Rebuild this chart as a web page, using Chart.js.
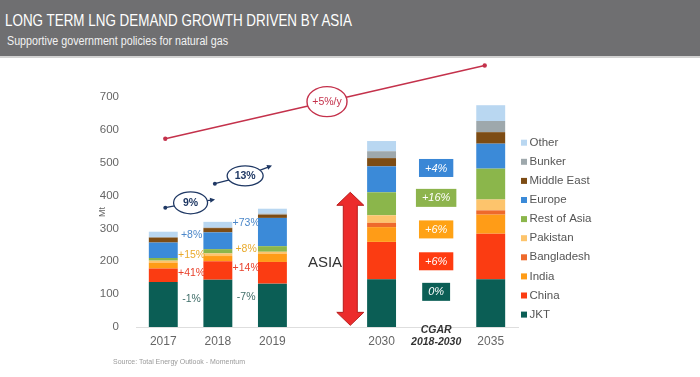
<!DOCTYPE html>
<html>
<head>
<meta charset="utf-8">
<script src="https://cdn.jsdelivr.net/npm/chart.js@4.4.0/dist/chart.umd.min.js"></script>
<style>
  html, body { margin: 0; padding: 0; background: #fff; }
  #wrap { position: relative; width: 700px; height: 377px; overflow: hidden; font-family: "Liberation Sans", Arial, sans-serif; }
  #header { position: absolute; left: 0; top: 0; width: 700px; height: 56px; background: #6f6f71; border-bottom: 2px solid #d2d2d2; z-index: 2; }
  .fit { position: absolute; white-space: nowrap; transform-origin: 0 0; display: inline-block; }
  #title { left: 5px; top: 11px; color: #fff; font-size: 17px; line-height: 19px; }
  #subtitle { left: 7px; top: 34px; color: #f2f2f2; font-size: 12.5px; line-height: 15px; }
  #source { left: 113px; top: 357px; color: #9a9a9a; font-size: 7px; line-height: 9px; z-index: 2; }
  canvas { position: absolute; left: 0; top: 0; }
</style>
</head>
<body>
<div id="wrap">
  <div id="header">
    <span id="title" class="fit" data-w="347">LONG TERM LNG DEMAND GROWTH DRIVEN BY ASIA</span>
    <span id="subtitle" class="fit" data-w="221">Supportive government policies for natural gas</span>
  </div>
  <canvas id="lngChart" width="700" height="377"></canvas>
  <span id="source" class="fit" data-w="132">Source: Total Energy Outlook - Momentum</span>
</div>
<script>
// categories (index 3 is the gap, index 5 holds the CGAR boxes)
const categories = ['2017', '2018', '2019', '', '2030', 'CGAR', '2035'];

// Mt per region, bottom to top of the stack
const jkt        = [137, 144, 132, null, 145, null, 145];
const china      = [41, 56, 66, null, 114, null, 139];
const india      = [18, 16, 25, null, 45, null, 58];
const bangladesh = [0, 0, 0, null, 13, null, 13];
const pakistan   = [6, 8, 6, null, 23, null, 33];
const restOfAsia = [8, 13, 17, null, 70, null, 94];
const europe     = [47, 51, 86, null, 79, null, 76];
const middleEast = [15, 13, 10, null, 25, null, 35];
const bunker     = [2, 2, 3, null, 21, null, 34];
const other      = [16, 17, 15, null, 31, null, 48];

const seriesNames = ['JKT', 'China', 'India', 'Bangladesh', 'Pakistan', 'Rest of Asia', 'Europe', 'Middle East', 'Bunker', 'Other'];
const seriesColors = ['#0b5e55', '#fb3c12', '#ff9c17', '#ee6a2c', '#fdc46c', '#8bb64b', '#3b8ad8', '#7d4c14', '#9ea8ac', '#b9d7f1'];

const yTicks = [0, 100, 200, 300, 400, 500, 600, 700];

// growth labels between the historic bars (top to bottom)
const growth2018 = ['+8%', '+15%', '+41%', '-1%'];
const growth2019 = ['+73%', '+8%', '+14%', '-7%'];
const growthColors = ['#4b87c9', '#e9aa2c', '#e8412b', '#3f6d68'];

// CGAR 2018-2030 boxes (top to bottom)
const cagrLabels = ['+4%', '+16%', '+6%', '+6%', '0%'];
const cagrColors = ['#3a87d6', '#8db44d', '#ffa215', '#ff3b10', '#0b5e55'];

const yoyLabels = ['9%', '13%'];
const trendLabel = '+5%/y';

const seriesData = [jkt, china, india, bangladesh, pakistan, restOfAsia, europe, middleEast, bunker, other];

// squeeze the html texts to the measured widths
document.querySelectorAll('.fit').forEach(el => {
    const w = el.getBoundingClientRect().width;
    el.style.transform = `scaleX(${el.dataset.w / w})`;
});

Chart.defaults.font.family = '"Liberation Sans", Arial, sans-serif';

function ellipseBadge(ctx, cx, cy, rx, ry, color, text, font) {
    ctx.beginPath();
    ctx.ellipse(cx, cy, rx, ry, 0, 0, Math.PI * 2);
    ctx.fillStyle = '#fff';
    ctx.fill();
    ctx.strokeStyle = color;
    ctx.stroke();
    ctx.fillStyle = color;
    ctx.font = font;
    ctx.textAlign = 'center';
    ctx.textBaseline = 'middle';
    ctx.fillText(text, cx, cy + 0.5);
}

const annotate = {
    id: 'annotate',
    afterDraw(chart) {
        const { ctx } = chart;
        const x = chart.scales.x;
        const y = chart.scales.y;
        ctx.save();

        // y axis title
        ctx.save();
        ctx.translate(103, 212);
        ctx.rotate(-Math.PI / 2);
        ctx.fillStyle = '#666';
        ctx.font = '9px "Liberation Sans", Arial';
        ctx.textAlign = 'center';
        ctx.textBaseline = 'middle';
        ctx.fillText('Mt', 0, 0);
        ctx.restore();

        // growth labels between historic bars
        const gY1 = [279, 220, 164, 86];
        const gY2 = [315, 236, 178, 91];
        const m01 = (x.getPixelForValue(0) + x.getPixelForValue(1)) / 2;
        const m12 = (x.getPixelForValue(1) + x.getPixelForValue(2)) / 2;
        ctx.font = '10.5px "Liberation Sans", Arial';
        ctx.textAlign = 'center';
        ctx.textBaseline = 'middle';
        growth2018.forEach((t, i) => {
            ctx.fillStyle = growthColors[i];
            ctx.fillText(t, m01 + 1, y.getPixelForValue(gY1[i]));
        });
        growth2019.forEach((t, i) => {
            ctx.fillStyle = growthColors[i];
            ctx.fillText(t, m12 + 1, y.getPixelForValue(gY2[i]));
        });

        // yearly growth circles
        const navy = '#1f3864';
        ctx.lineWidth = 1.3;
        const badges = [
            { cx: m01, cy: 378, rx: 17, ry: 11, from: [x.getPixelForValue(0) + 2, 363], to: [m01 + 22.5, 387] },
            { cx: m12, cy: 460, rx: 18, ry: 10, from: [x.getPixelForValue(1) - 3, 436], to: [m12 + 25, 489] }
        ];
        badges.forEach((b, i) => {
            const cy = y.getPixelForValue(b.cy);
            const fy = y.getPixelForValue(b.from[1]);
            const ty = y.getPixelForValue(b.to[1]);
            ctx.strokeStyle = navy;
            ctx.fillStyle = navy;
            ctx.beginPath();
            ctx.moveTo(b.from[0], fy);
            ctx.lineTo(b.cx, cy);
            ctx.lineTo(b.to[0], ty);
            ctx.stroke();
            ctx.beginPath();
            ctx.arc(b.from[0], fy, 2, 0, Math.PI * 2);
            ctx.fill();
            const ang = Math.atan2(ty - cy, b.to[0] - b.cx);
            ctx.beginPath();
            ctx.moveTo(b.to[0] + 2 * Math.cos(ang), ty + 2 * Math.sin(ang));
            ctx.lineTo(b.to[0] - 3 * Math.cos(ang) - 2.5 * Math.sin(ang), ty - 3 * Math.sin(ang) + 2.5 * Math.cos(ang));
            ctx.lineTo(b.to[0] - 3 * Math.cos(ang) + 2.5 * Math.sin(ang), ty - 3 * Math.sin(ang) - 2.5 * Math.cos(ang));
            ctx.closePath();
            ctx.fill();
            ellipseBadge(ctx, b.cx, cy, b.rx, b.ry, navy, yoyLabels[i], 'bold 10.5px "Liberation Sans", Arial');
        });

        // long term trend line
        const crimson = '#c4314b';
        const sx = x.getPixelForValue(0) + 2, sy = y.getPixelForValue(573);
        const ex = x.getPixelForValue(6) - 6, ey = y.getPixelForValue(796);
        ctx.strokeStyle = crimson;
        ctx.fillStyle = crimson;
        ctx.lineWidth = 1.4;
        ctx.beginPath();
        ctx.moveTo(sx, sy);
        ctx.lineTo(ex, ey);
        ctx.stroke();
        [[sx, sy], [ex, ey]].forEach(p => {
            ctx.beginPath();
            ctx.arc(p[0], p[1], 2.2, 0, Math.PI * 2);
            ctx.fill();
        });
        const tcx = x.getPixelForValue(3);
        const tcy = sy + (ey - sy) * (tcx - sx) / (ex - sx);
        ellipseBadge(ctx, tcx, tcy, 20, 15, crimson, trendLabel, '10.5px "Liberation Sans", Arial');

        // ASIA double arrow
        const ax = (x.getPixelForValue(3) + x.getPixelForValue(4)) / 2 - 4;
        const at = y.getPixelForValue(410), ab = y.getPixelForValue(5);
        const hw = 13.5, hh = 13, sw = 7;
        ctx.beginPath();
        ctx.moveTo(ax, at);
        ctx.lineTo(ax + hw, at + hh);
        ctx.lineTo(ax + sw, at + hh);
        ctx.lineTo(ax + sw, ab - hh);
        ctx.lineTo(ax + hw, ab - hh);
        ctx.lineTo(ax, ab);
        ctx.lineTo(ax - hw, ab - hh);
        ctx.lineTo(ax - sw, ab - hh);
        ctx.lineTo(ax - sw, at + hh);
        ctx.lineTo(ax - hw, at + hh);
        ctx.closePath();
        ctx.fillStyle = '#ec2b2b';
        ctx.fill();
        ctx.strokeStyle = '#b81c1c';
        ctx.lineWidth = 1;
        ctx.stroke();
        ctx.fillStyle = '#333';
        ctx.font = '15px "Liberation Sans", Arial';
        ctx.textAlign = 'center';
        ctx.textBaseline = 'middle';
        ctx.fillText('ASIA', x.getPixelForValue(3) - 2, y.getPixelForValue(194));

        // CGAR boxes
        const cx5 = x.getPixelForValue(5);
        const boxY = [484, 393, 297, 200, 107];
        ctx.font = 'italic 11px "Liberation Sans", Arial';
        cagrLabels.forEach((t, i) => {
            const w = ctx.measureText(t).width + 12;
            const cy = y.getPixelForValue(boxY[i]);
            ctx.fillStyle = cagrColors[i];
            ctx.fillRect(cx5 - w / 2, cy - 9, w, 18);
            ctx.fillStyle = '#fff';
            ctx.fillText(t, cx5, cy + 0.5);
        });
        ctx.fillStyle = '#333';
        ctx.font = 'italic bold 10.5px "Liberation Sans", Arial';
        ctx.fillText('CGAR', cx5, 330.5);
        ctx.fillText('2018-2030', cx5, 342);

        // legend, reversed order
        ctx.font = '11.5px "Liberation Sans", Arial';
        ctx.textAlign = 'left';
        for (let k = 0; k < seriesNames.length; k++) {
            const i = seriesNames.length - 1 - k;
            const ly = 142.7 + k * 19.1;
            ctx.fillStyle = seriesColors[i];
            ctx.fillRect(521, ly - 3, 6, 6);
            ctx.fillStyle = '#555';
            ctx.fillText(seriesNames[i], 529.5, ly);
        }
        ctx.restore();
    }
};

new Chart(document.getElementById('lngChart'), {
    type: 'bar',
    data: {
        labels: categories,
        datasets: seriesNames.map((name, i) => ({
            label: name,
            data: seriesData[i],
            backgroundColor: seriesColors[i],
            borderWidth: 0,
            barPercentage: 0.53,
            categoryPercentage: 1
        }))
    },
    options: {
        responsive: false,
        animation: false,
        layout: { padding: { left: 90, right: 182, top: 97, bottom: 0 } },
        plugins: { legend: { display: false }, tooltip: { enabled: false } },
        scales: {
            x: {
                stacked: true,
                grid: { display: false, drawTicks: false },
                border: { display: true, color: '#dedede' },
                afterFit: s => { s.height = 50; },
                ticks: {
                    padding: 7,
                    color: '#666',
                    font: { size: 12 },
                    callback: (v, i) => (i === 5 ? '' : categories[i])
                }
            },
            y: {
                stacked: true,
                min: 0,
                max: 700,
                afterFit: s => { s.width = 46; },
                afterBuildTicks: s => { s.ticks = yTicks.map(v => ({ value: v })); },
                grid: { display: false },
                border: { display: false },
                ticks: { padding: 9, color: '#666', font: { size: 11.5 } }
            }
        }
    },
    plugins: [annotate]
});
</script>
</body>
</html>
